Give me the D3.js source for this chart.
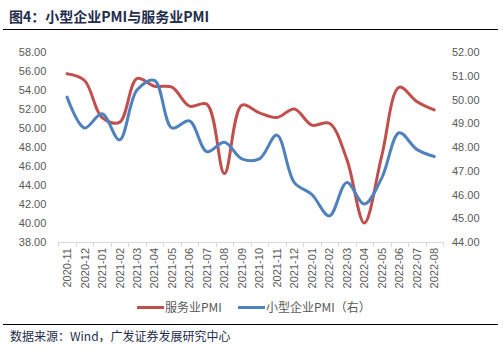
<!DOCTYPE html>
<html><head><meta charset="utf-8">
<script src="https://d3js.org/d3.v7.min.js"></script>
<style>body{margin:0;background:#fff}svg{display:block}</style>
</head><body>
<script>
const categories = ["2020-11","2020-12","2021-01","2021-02","2021-03","2021-04","2021-05","2021-06","2021-07","2021-08","2021-09","2021-10","2021-11","2021-12","2022-01","2022-02","2022-03","2022-04","2022-05","2022-06","2022-07","2022-08"];
const servicePMI = [55.7,55.0,51.1,50.6,55.2,54.4,54.3,52.3,52.5,45.2,52.4,51.6,51.1,52.0,50.3,50.5,46.7,40.0,47.1,54.3,52.8,51.9];
const smallPMI = [50.1,48.8,49.4,48.3,50.4,50.8,48.8,49.1,47.8,48.2,47.5,47.5,48.5,46.5,46.0,45.1,46.5,45.6,46.7,48.6,47.9,47.6];
const leftTicks = [38,40,42,44,46,48,50,52,54,56,58];
const rightTicks = [44,45,46,47,48,49,50,51,52];
const title = "图4：小型企业PMI与服务业PMI";
const source = "数据来源：Wind，广发证券发展研究中心";
const seriesNames = ["服务业PMI","小型企业PMI（右）"];

const W=503,H=355;
const svg=d3.select("body").append("svg").attr("width",W).attr("height",H);
const L=58.3,R=443,T=52,B=242;
const x=d3.scaleBand().domain(categories).range([L,R]);
const yL=d3.scaleLinear().domain([38,58]).range([B,T]);
const yR=d3.scaleLinear().domain([44,52]).range([B,T]);
const txt="#595959";

svg.append("text").attr("x",9).attr("y",22).text(title)
  .attr("font-family","'Noto Sans CJK SC',sans-serif").attr("font-weight","bold").attr("font-size",14).attr("fill","#1f2d4d");
svg.append("line").attr("x1",3).attr("x2",498).attr("y1",29.5).attr("y2",29.5).attr("stroke","#000").attr("stroke-width",1);
svg.append("line").attr("x1",3).attr("x2",498).attr("y1",324.5).attr("y2",324.5).attr("stroke","#000").attr("stroke-width",1);
svg.append("text").attr("x",10).attr("y",341).text(source)
  .attr("font-family","'Noto Sans CJK SC',sans-serif").attr("font-size",12).attr("fill","#1f2d4d");

// left axis
const gl=svg.append("g").attr("transform",`translate(${L},0)`)
  .call(d3.axisLeft(yL).tickValues(leftTicks).tickFormat(d3.format(".2f")).tickSize(0).tickPadding(12));
gl.select(".domain").remove();
gl.selectAll("text").attr("font-family","'Liberation Sans',Arial,sans-serif").attr("font-size",11).attr("fill",txt);
// right axis
const gr=svg.append("g").attr("transform",`translate(${R},0)`)
  .call(d3.axisRight(yR).tickValues(rightTicks).tickFormat(d3.format(".2f")).tickSize(0).tickPadding(9));
gr.select(".domain").remove();
gr.selectAll("text").attr("font-family","'Liberation Sans',Arial,sans-serif").attr("font-size",11).attr("fill",txt);
// x axis
svg.append("line").attr("x1",L).attr("x2",R).attr("y1",B+0.5).attr("y2",B+0.5).attr("stroke","#d9d9d9");
const bounds=categories.map(c=>x(c)).concat([R]);
svg.selectAll(".xt").data(bounds).join("line").attr("x1",d=>Math.round(d)+0.5).attr("x2",d=>Math.round(d)+0.5)
  .attr("y1",B).attr("y2",B+5).attr("stroke","#d9d9d9");
svg.selectAll(".xl").data(categories).join("text")
  .attr("transform",d=>`translate(${x(d)+x.bandwidth()/2+4},${B+6}) rotate(-90)`)
  .attr("text-anchor","end").text(d=>d)
  .attr("font-family","'Liberation Sans',Arial,sans-serif").attr("font-size",11).attr("fill",txt);

const cx=d=>x(d)+x.bandwidth()/2;
const lineL=d3.line().x((d,i)=>cx(categories[i])).y(d=>yL(d)).curve(d3.curveCatmullRom.alpha(0.5));
const lineR=d3.line().x((d,i)=>cx(categories[i])).y(d=>yR(d)).curve(d3.curveCatmullRom.alpha(0.5));
svg.append("path").attr("d",lineL(servicePMI)).attr("fill","none").attr("stroke","#c0504d").attr("stroke-width",3).attr("stroke-linecap","round");
svg.append("path").attr("d",lineR(smallPMI)).attr("fill","none").attr("stroke","#4f81bd").attr("stroke-width",3).attr("stroke-linecap","round");

// legend
const leg=[{n:seriesNames[0],c:"#c0504d",x:137},{n:seriesNames[1],c:"#4f81bd",x:238}];
leg.forEach(l=>{
  svg.append("line").attr("x1",l.x).attr("x2",l.x+27).attr("y1",307.5).attr("y2",307.5).attr("stroke",l.c).attr("stroke-width",3);
  svg.append("text").attr("x",l.x+28).attr("y",312).text(l.n)
    .attr("font-family","'Noto Sans CJK SC',sans-serif").attr("font-size",12).attr("fill",txt);
});
</script>
</body></html>
